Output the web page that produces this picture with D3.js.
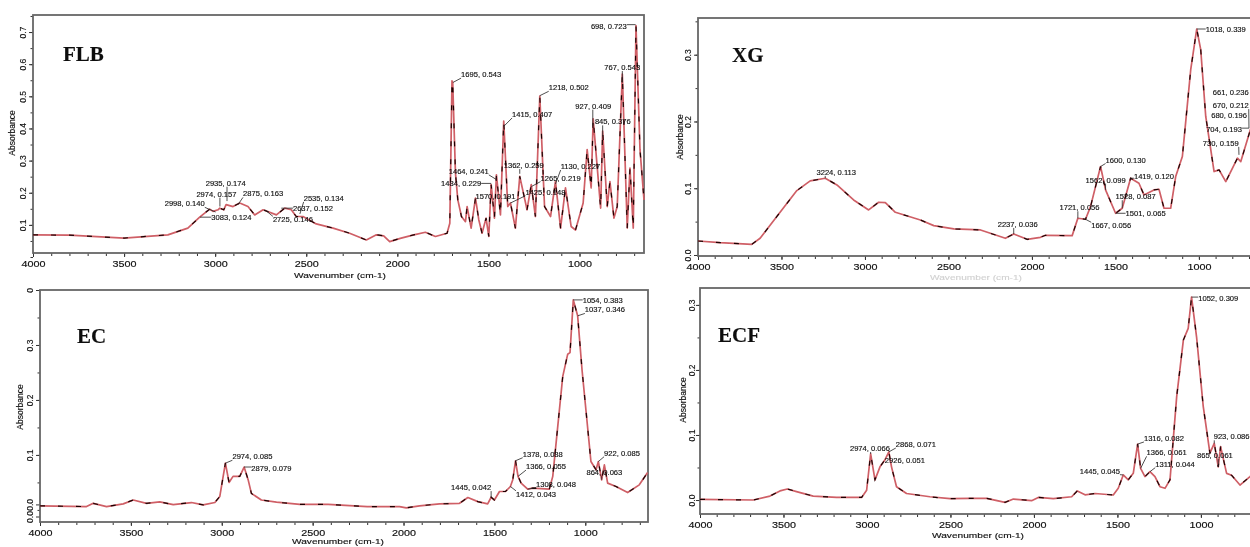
<!DOCTYPE html>
<html>
<head>
<meta charset="utf-8">
<script src="https://cdn.jsdelivr.net/npm/d3@7"></script>
<style>
  html, body { margin: 0; padding: 0; background: #fff; overflow: hidden; }
  text { font-family: "Liberation Sans", sans-serif; fill: #111; stroke: #111; stroke-width: 0.15; }
</style>
</head>
<body>
<svg id="chart" width="1250" height="547"></svg>
<script>
// spectra: wavenumber (cm-1) and absorbance
const flbWave = [4000, 3800, 3500, 3260, 3150, 3085, 3030, 3012, 2984, 2975, 2953, 2940, 2902, 2865, 2820, 2783, 2737, 2664, 2618, 2582, 2555, 2518, 2445, 2353, 2262, 2170, 2115, 2075, 2042, 1984, 1910, 1846, 1791, 1727, 1712, 1700, 1696, 1681, 1668, 1648, 1626, 1617, 1595, 1571, 1553, 1535, 1513, 1498, 1485, 1467, 1456, 1434, 1416, 1394, 1379, 1352, 1328, 1288, 1265, 1242, 1218, 1192, 1159, 1132, 1104, 1077, 1046, 1022, 980, 958, 936, 925, 884, 873, 848, 833, 811, 793, 765, 738, 723, 705, 690, 668, 646]
const flbAbs = [0.069, 0.068, 0.059, 0.069, 0.09, 0.124, 0.149, 0.142, 0.147, 0.152, 0.147, 0.163, 0.157, 0.168, 0.157, 0.131, 0.147, 0.131, 0.152, 0.147, 0.126, 0.126, 0.103, 0.09, 0.074, 0.053, 0.069, 0.066, 0.048, 0.058, 0.069, 0.077, 0.064, 0.074, 0.105, 0.548, 0.543, 0.261, 0.178, 0.126, 0.11, 0.157, 0.09, 0.183, 0.116, 0.074, 0.121, 0.064, 0.225, 0.121, 0.256, 0.131, 0.423, 0.157, 0.168, 0.09, 0.251, 0.147, 0.225, 0.126, 0.501, 0.157, 0.126, 0.235, 0.09, 0.215, 0.095, 0.084, 0.168, 0.334, 0.215, 0.43, 0.152, 0.392, 0.157, 0.235, 0.121, 0.157, 0.569, 0.09, 0.277, 0.09, 0.72, 0.334, 0.178]
const flbPeakWave = [2998, 2935, 2974, 2875, 2535, 2637, 2725, 3083, 1695, 1218, 1415, 927, 873, 765, 692, 1456, 1485, 1328, 1132, 1265, 1571, 1379]
const flbPeakAbs = [0.14, 0.174, 0.157, 0.163, 0.134, 0.152, 0.146, 0.124, 0.543, 0.502, 0.407, 0.409, 0.376, 0.543, 0.723, 0.241, 0.229, 0.259, 0.227, 0.219, 0.191, 0.168]
const flbPeakText = ['2998, 0.140', '2935, 0.174', '2974, 0.157', '2875, 0.163', '2535, 0.134', '2637, 0.152', '2725, 0.146', '3083, 0.124', '1695, 0.543', '1218, 0.502', '1415, 0.407', '927, 0.409', '845, 0.376', '767, 0.543', '698, 0.723', '1464, 0.241', '1484, 0.229', '1362, 0.259', '1130, 0.227', '1265, 0.219', '1570, 0.191', '1425, 0.148']
const flbLabelWave = [3167, 2942, 2993, 2737, 2404, 2463, 2573, 2911, 1540, 1059, 1260, 925, 817, 765, 839, 1608, 1650, 1306, 995, 1104, 1461, 1187]
const flbLabelAbs = [0.166, 0.23, 0.196, 0.197, 0.183, 0.152, 0.116, 0.124, 0.568, 0.527, 0.444, 0.47, 0.421, 0.59, 0.718, 0.267, 0.228, 0.285, 0.282, 0.246, 0.189, 0.202]

const xgWave = [4000, 3868, 3678, 3628, 3498, 3408, 3328, 3238, 3168, 3068, 2978, 2918, 2878, 2818, 2668, 2588, 2468, 2308, 2249, 2159, 2109, 2029, 1949, 1919, 1759, 1725, 1679, 1649, 1589, 1559, 1499, 1459, 1409, 1359, 1329, 1269, 1239, 1209, 1169, 1139, 1099, 1049, 1013, 989, 959, 909, 879, 839, 769, 749, 689]
const xgAbs = [0.021, 0.0185, 0.016, 0.025, 0.0675, 0.0965, 0.111, 0.115, 0.105, 0.0825, 0.0675, 0.079, 0.0785, 0.064, 0.0525, 0.044, 0.039, 0.0375, 0.0325, 0.025, 0.0315, 0.0235, 0.0265, 0.0295, 0.029, 0.055, 0.0535, 0.0725, 0.1325, 0.0975, 0.0625, 0.07, 0.115, 0.1075, 0.09, 0.0975, 0.0985, 0.07, 0.07, 0.1175, 0.1475, 0.2775, 0.3385, 0.3075, 0.2075, 0.125, 0.1275, 0.11, 0.145, 0.14, 0.19]
const xgPeakWave = [3238, 2109, 1725, 1679, 1589, 1559, 1409, 1459, 1499, 1013, 689, 700, 720, 700, 760]
const xgPeakAbs = [0.115, 0.0315, 0.055, 0.0535, 0.1325, 0.0975, 0.115, 0.07, 0.0625, 0.3385, 0.19, 0.19, 0.17, 0.19, 0.15]
const xgPeakText = ['3224, 0.113', '2237, 0.036', '1721, 0.056', '1667, 0.056', '1600, 0.130', '1562, 0.099', '1419, 0.120', '1528, 0.087', '1501, 0.065', '1018, 0.339', '661, 0.236', '670, 0.212', '680, 0.196', '704, 0.193', '730, 0.159']
const xgLabelWave = [3172, 2085, 1715, 1525, 1439, 1559, 1269, 1379, 1319, 839, 809, 809, 819, 849, 869]
const xgLabelAbs = [0.124, 0.046, 0.071, 0.044, 0.1425, 0.1125, 0.1175, 0.0875, 0.0625, 0.3385, 0.2435, 0.224, 0.2085, 0.1885, 0.1675]

const ecWave = [4000, 3744, 3707, 3634, 3542, 3487, 3414, 3341, 3267, 3167, 3102, 3038, 3011, 2980, 2960, 2938, 2901, 2877, 2855, 2837, 2782, 2699, 2571, 2415, 2200, 2022, 1985, 1912, 1802, 1692, 1646, 1591, 1537, 1518, 1500, 1472, 1439, 1412, 1399, 1384, 1370, 1353, 1317, 1289, 1198, 1179, 1124, 1097, 1084, 1066, 1042, 1018, 969, 941, 928, 910, 895, 877, 831, 767, 703, 657]
const ecAbs = [0.0073, 0.006, 0.012, 0.006, 0.011, 0.018, 0.012, 0.0146, 0.0097, 0.0134, 0.009, 0.0134, 0.0243, 0.085, 0.05, 0.061, 0.061, 0.078, 0.055, 0.03, 0.018, 0.014, 0.01, 0.01, 0.006, 0.006, 0.0036, 0.0073, 0.011, 0.012, 0.0225, 0.015, 0.011, 0.023, 0.018, 0.0335, 0.0335, 0.0426, 0.0547, 0.0894, 0.061, 0.0487, 0.0377, 0.0395, 0.0377, 0.061, 0.243, 0.283, 0.286, 0.382, 0.353, 0.255, 0.088, 0.073, 0.088, 0.0547, 0.082, 0.0487, 0.0426, 0.0316, 0.0456, 0.068]
const ecPeakWave = [2980, 2877, 1518, 1412, 1384, 1370, 1317, 928, 910, 1066, 1042]
const ecPeakAbs = [0.085, 0.078, 0.023, 0.0426, 0.0894, 0.061, 0.0377, 0.088, 0.0547, 0.382, 0.353]
const ecPeakText = ['2974, 0.085', '2879, 0.079', '1445, 0.042', '1412, 0.043', '1378, 0.088', '1366, 0.055', '1308, 0.048', '922, 0.085', '864, 0.063', '1054, 0.383', '1037, 0.346']
const ecLabelWave = [2831, 2727, 1628, 1271, 1234, 1216, 1161, 798, 895, 904, 892]
const ecLabelAbs = [0.097, 0.076, 0.0408, 0.0286, 0.1016, 0.079, 0.0474, 0.1034, 0.068, 0.382, 0.364]

const ecfWave = [4000, 3681, 3581, 3521, 3477, 3422, 3322, 3182, 3032, 3002, 2978, 2952, 2922, 2893, 2869, 2853, 2823, 2763, 2623, 2503, 2383, 2283, 2173, 2123, 2014, 1974, 1884, 1774, 1740, 1694, 1634, 1525, 1495, 1465, 1435, 1405, 1379, 1361, 1335, 1305, 1275, 1245, 1215, 1185, 1145, 1105, 1076, 1056, 1026, 986, 946, 920, 896, 882, 846, 816, 766, 706, 666]
const ecfAbs = [0.001, 0, 0.006, 0.014, 0.017, 0.013, 0.006, 0.004, 0.004, 0.015, 0.071, 0.031, 0.051, 0.0615, 0.074, 0.051, 0.0205, 0.01, 0.005, 0.002, 0.0026, 0.0026, -0.0036, 0.0015, -0.001, 0.004, 0.002, 0.005, 0.014, 0.008, 0.01, 0.0077, 0.018, 0.0385, 0.031, 0.041, 0.086, 0.0487, 0.036, 0.0436, 0.036, 0.0205, 0.018, 0.031, 0.159, 0.246, 0.264, 0.312, 0.251, 0.144, 0.072, 0.087, 0.051, 0.082, 0.041, 0.038, 0.023, 0.036, 0.046]
const ecfPeakWave = [2978, 2869, 2893, 1465, 1379, 1361, 1305, 1056, 920, 896]
const ecfPeakAbs = [0.071, 0.074, 0.0615, 0.0385, 0.086, 0.0487, 0.0436, 0.312, 0.087, 0.051]
const ecfPeakText = ['2974, 0.066', '2868, 0.071', '2926, 0.051', '1445, 0.045', '1316, 0.082', '1366, 0.061', '1311, 0.044', '1052, 0.309', '923, 0.086', '865, 0.061']
const ecfLabelWave = [2982, 2707, 2773, 1605, 1221, 1205, 1155, 896, 816, 916]
const ecfLabelAbs = [0.0795, 0.0856, 0.0615, 0.0446, 0.0949, 0.0728, 0.0554, 0.3103, 0.0974, 0.0692]

// tick labels
const xTicks = [4000, 3500, 3000, 2500, 2000, 1500, 1000]
const flbYTicks = [0.7, 0.6, 0.5, 0.4, 0.3, 0.2, 0.1]
const xgYTicks = [0.3, 0.2, 0.1, 0]
const ecYTicks = [0.4, 0.3, 0.2, 0.1, 0.01, -0.012]
const ecYLabels = ['0', '0.3', '0.2', '0.1', '0.0', '0.0']
const ecfYTicks = [0.3, 0.2, 0.1, 0]

const panels = [
  { name: 'FLB', wave: flbWave, abs: flbAbs, peakWave: flbPeakWave, peakAbs: flbPeakAbs, peakText: flbPeakText, labelWave: flbLabelWave, labelAbs: flbLabelAbs,
    xDomain: [4000, 646], xRange: [33, 644], yDomain: [0.0125, 0.753], yRange: [253, 15], yTicks: flbYTicks,
    namePos: [63, 61], yTitle: [12, 133], tickX: 23, xTitle: [340, 275], xTitleOpacity: 1 },
  { name: 'XG', wave: xgWave, abs: xgAbs, peakWave: xgPeakWave, peakAbs: xgPeakAbs, peakText: xgPeakText, labelWave: xgLabelWave, labelAbs: xgLabelAbs,
    xDomain: [4000, 646], xRange: [698, 1258], yDomain: [-0.0015, 0.355], yRange: [256, 18], yTicks: xgYTicks,
    namePos: [732, 62], yTitle: [680, 137], tickX: 688, xTitle: [976, 277], xTitleOpacity: 0.2 },
  { name: 'EC', wave: ecWave, abs: ecAbs, peakWave: ecPeakWave, peakAbs: ecPeakAbs, peakText: ecPeakText, labelWave: ecLabelWave, labelAbs: ecLabelAbs,
    xDomain: [4000, 655], xRange: [40, 648], yDomain: [-0.022, 0.4], yRange: [522, 290], yTicks: ecYTicks, yLabels: ecYLabels,
    namePos: [77, 343], yTitle: [20, 407], tickX: 30, xTitle: [338, 541], xTitleOpacity: 1 },
  { name: 'ECF', wave: ecfWave, abs: ecfAbs, peakWave: ecfPeakWave, peakAbs: ecfPeakAbs, peakText: ecfPeakText, labelWave: ecfLabelWave, labelAbs: ecfLabelAbs,
    xDomain: [4000, 646], xRange: [700, 1260], yDomain: [-0.0215, 0.326], yRange: [514, 288], yTicks: ecfYTicks,
    namePos: [718, 342], yTitle: [683, 400], tickX: 692, xTitle: [978, 535], xTitleOpacity: 1 }
]

const svg = d3.select('#chart')

// the source is a soft, upscaled scan, so everything gets a slight blur
svg.append('defs').append('filter')
  .attr('id', 'soft')
  .attr('x', '-5%').attr('y', '-5%').attr('width', '110%').attr('height', '110%')
  .append('feGaussianBlur')
  .attr('stdDeviation', 0.7)

const root = svg.append('g').attr('filter', 'url(#soft)')
root.append('rect').attr('width', 1250).attr('height', 547).attr('fill', '#fff')

/**
 * Draws one spectrum panel: frame, axes, curve and peak labels.
 *
 * @param {object} p The panel's data and layout
 */
function drawPanel (p) {
  const x = d3.scaleLinear().domain(p.xDomain).range(p.xRange)
  const y = d3.scaleLinear().domain(p.yDomain).range(p.yRange)
  const g = root.append('g')
  const bottom = p.yRange[0]
  const left = p.xRange[0]

  // minor ticks first, every 100 cm-1 and every 0.05
  const xMinor = d3.axisBottom(x).tickValues(d3.range(3900, 650, -100)).tickSize(3).tickFormat('')
  g.append('g').attr('transform', `translate(0,${bottom})`).call(xMinor)
  const yMinor = d3.axisLeft(y).tickValues(d3.range(0, p.yDomain[1], 0.05)).tickSize(2.5).tickFormat('')
  g.append('g').attr('transform', `translate(${left},0)`).call(yMinor)

  const xAxis = d3.axisBottom(x).tickValues(xTicks).tickSize(4).tickPadding(4).tickFormat(d3.format('d'))
  const xG = g.append('g').attr('class', 'x').attr('transform', `translate(0,${bottom})`).call(xAxis)
  xG.selectAll('text').attr('font-size', 8.5).attr('textLength', 24).attr('lengthAdjust', 'spacingAndGlyphs')

  const yAxis = d3.axisLeft(y).tickValues(p.yTicks).tickSize(4).tickFormat((d, i) => p.yLabels ? p.yLabels[i] : d3.format('.1f')(d))
  const yG = g.append('g').attr('class', 'y').attr('transform', `translate(${left},0)`).call(yAxis)
  yG.selectAll('text')
    .attr('font-size', 8.5)
    .attr('text-anchor', 'middle')
    .attr('dy', 0)
    .attr('x', 0)
    .attr('y', 0)
    .attr('transform', `translate(${p.tickX - left + 3},0) rotate(-90)`)

  g.selectAll('.domain').attr('stroke', 'none')
  g.selectAll('.tick line').attr('stroke', '#333').attr('stroke-width', 1)

  // frame
  g.append('rect')
    .attr('x', left).attr('y', p.yRange[1])
    .attr('width', p.xRange[1] - left).attr('height', bottom - p.yRange[1])
    .attr('fill', 'none').attr('stroke', '#666').attr('stroke-width', 1.8)

  // spectrum: pink-red trace with the darker broken trace on top
  const points = p.wave.map((w, i) => [w, p.abs[i]])
  const line = d3.line().x(d => x(d[0])).y(d => y(d[1]))
  g.append('path').datum(points).attr('d', line)
    .attr('fill', 'none').attr('stroke', '#cf5f66').attr('stroke-width', 1.7).attr('stroke-linejoin', 'round')
  g.append('path').datum(points).attr('d', line)
    .attr('fill', 'none').attr('stroke', '#1e0606').attr('stroke-width', 1.2).attr('stroke-dasharray', '5 13')

  // peak labels with a small leader to their peak
  p.peakText.forEach((text, i) => {
    const label = g.append('text')
      .attr('x', x(p.labelWave[i]))
      .attr('y', y(p.labelAbs[i]))
      .attr('dy', '0.35em')
      .attr('text-anchor', 'middle')
      .attr('font-size', 7.6)
      .text(text)
    const box = label.node().getBBox()
    const px = x(p.peakWave[i])
    const py = y(p.peakAbs[i])
    const ex = Math.max(box.x, Math.min(box.x + box.width, px))
    const ey = Math.max(box.y + 1, Math.min(box.y + box.height - 1, py))
    if (Math.hypot(px - ex, py - ey) < 22) {
      g.append('line')
        .attr('x1', ex).attr('y1', ey).attr('x2', px).attr('y2', py)
        .attr('stroke', '#222').attr('stroke-width', 0.8)
    }
  })

  // titles
  g.append('text')
    .attr('x', p.namePos[0]).attr('y', p.namePos[1])
    .attr('font-size', 21).attr('font-weight', 'bold')
    .style('font-family', '"Liberation Serif", serif')
    .text(p.name)
  g.append('text')
    .attr('transform', `translate(${p.yTitle[0]},${p.yTitle[1]}) rotate(-90)`)
    .attr('text-anchor', 'middle').attr('dy', '0.35em')
    .attr('font-size', 8.5)
    .text('Absorbance')
  g.append('text')
    .attr('x', p.xTitle[0]).attr('y', p.xTitle[1])
    .attr('text-anchor', 'middle').attr('dy', '0.35em')
    .attr('font-size', 8)
    .attr('textLength', 92).attr('lengthAdjust', 'spacingAndGlyphs')
    .attr('opacity', p.xTitleOpacity)
    .text('Wavenumber (cm-1)')
}

panels.forEach(drawPanel)
</script>
</body>
</html>
